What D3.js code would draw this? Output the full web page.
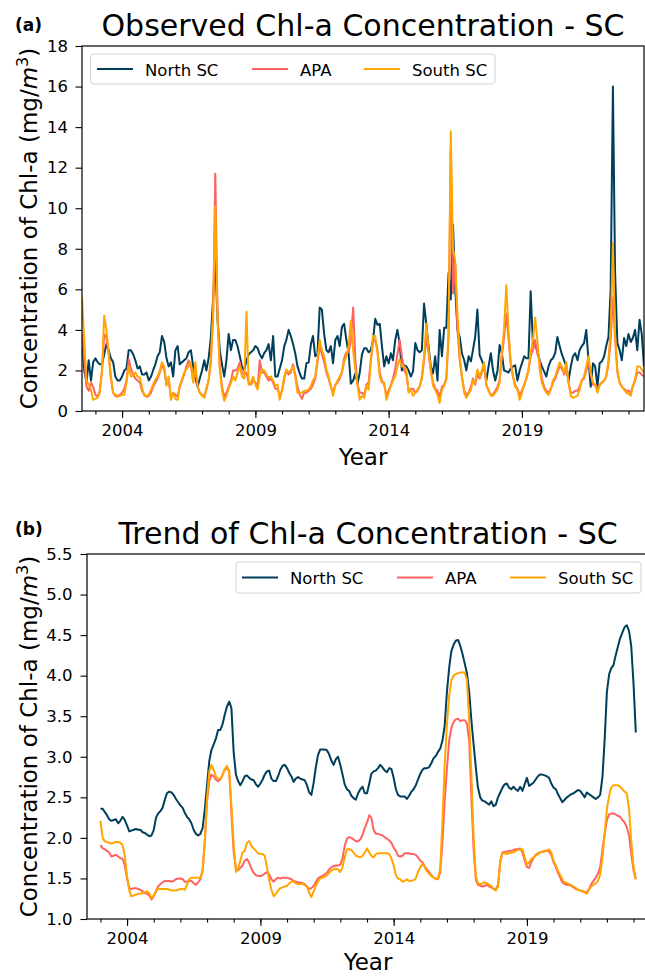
<!DOCTYPE html>
<html>
<head>
<meta charset="utf-8">
<script src="https://cdn.jsdelivr.net/npm/d3@7/dist/d3.min.js"></script>
<style>
  html, body { margin: 0; padding: 0; background: #fff; }
  svg { display: block; font-family: "DejaVu Sans", sans-serif; }
</style>
</head>
<body>
<svg id="chart" width="645" height="976"></svg>
<script>
// ---------------- DATA ----------------
const seriesNames = ["North SC", "APA", "South SC"];
const seriesColors = ["#003f5c", "#ff6361", "#ffa600"];

// Observed monthly series, starting July 2002
const observedStart = [2002, 7];
const obsNorth = [
  3.7,2.0,1.4,2.5,1.5,2.4,
  2.6,2.4,2.3,2.3,2.8,3.3,3.0,2.6,2.4,1.7,1.5,1.5,
  1.7,2.0,2.1,3.0,3.0,2.8,2.5,2.1,2.2,1.8,1.8,1.9,
  1.5,1.7,2.0,2.3,2.7,2.9,3.7,3.4,2.6,2.2,2.4,1.7,
  3.0,3.2,2.3,2.4,2.5,2.6,2.9,3.0,2.2,1.6,1.2,1.6,
  2.0,2.5,2.0,2.6,3.6,5.5,7.5,4.5,3.0,2.3,1.7,2.5,
  3.8,3.0,3.5,3.5,3.2,2.7,2.2,2.0,2.5,2.8,2.9,3.0,
  3.2,3.1,2.8,2.6,2.85,3.0,3.3,2.5,3.7,1.7,1.7,2.1,
  2.5,3.2,3.5,4.0,3.7,3.3,2.85,2.2,1.85,1.6,1.6,2.35,
  2.4,3.3,3.7,2.7,2.8,5.1,5.0,3.8,3.0,2.9,3.2,2.35,
  3.5,3.7,3.2,4.15,4.3,3.5,2.85,1.35,1.5,1.85,1.35,1.9,
  2.8,3.1,3.1,2.9,3.0,3.5,4.55,4.25,4.3,3.2,2.2,2.7,
  2.35,2.85,2.5,3.5,4.0,3.35,2.0,2.25,2.2,2.0,1.7,1.95,
  3.35,3.0,2.9,3.0,5.3,4.3,3.2,2.2,1.85,2.7,1.5,4.0,
  2.7,4.1,4.1,6.8,5.5,9.2,6.0,4.0,3.65,2.85,2.5,2.0,
  2.7,2.45,3.0,3.65,5.0,2.75,2.5,2.2,1.5,2.2,2.85,2.0,
  1.5,2.0,3.25,2.85,2.0,1.95,1.9,2.1,2.2,2.25,1.5,2.0,
  2.35,2.7,2.6,2.6,5.9,3.35,3.2,3.0,2.5,2.2,1.95,1.7,
  2.2,2.5,2.6,2.85,3.65,3.2,2.8,2.5,2.2,1.5,2.2,2.7,
  2.85,2.5,3.0,3.2,3.35,4.0,2.5,1.2,2.35,2.2,1.2,2.35,
  2.45,2.7,3.2,3.65,6.0,16.0,6.8,3.35,3.0,2.5,3.6,3.2,
  3.8,3.4,3.6,4.0,3.0,4.5,3.8,2.2
];
const obsAPA = [
  3.8,2.6,1.2,1.0,1.4,1.2,
  0.8,0.7,1.0,1.9,3.8,3.6,2.8,1.6,0.9,0.75,0.7,0.8,
  0.9,1.1,1.5,2.55,2.1,1.8,1.6,1.5,1.4,1.0,0.8,0.7,
  0.75,0.9,1.2,1.4,1.6,1.9,2.3,2.0,1.3,1.5,0.7,0.9,
  0.8,0.7,1.2,1.5,1.8,2.2,2.5,2.2,1.5,2.0,1.2,0.9,
  0.8,0.7,1.1,1.5,2.4,4.5,11.7,5.0,2.2,1.2,0.7,0.9,
  1.2,1.5,2.0,2.0,2.1,2.4,1.9,1.8,1.9,1.4,1.3,1.5,
  1.4,1.2,2.5,1.9,1.9,1.7,1.5,1.6,1.4,1.1,1.1,0.7,
  1.0,1.6,2.0,1.8,1.9,2.3,1.8,1.2,0.8,0.6,0.9,0.9,
  1.0,1.1,1.3,1.6,2.4,3.2,2.8,2.4,1.9,1.6,1.2,0.9,
  1.3,1.4,1.6,1.9,2.6,2.9,2.9,3.5,5.1,2.6,1.3,0.9,
  0.9,0.8,1.3,1.4,2.5,3.4,3.5,3.0,1.9,1.5,1.3,0.8,
  1.0,1.3,1.6,2.1,2.8,3.5,2.7,2.0,1.8,1.0,1.1,1.1,
  0.9,1.0,1.2,1.6,2.5,3.6,2.9,2.0,1.4,1.1,1.0,0.7,
  1.2,1.3,1.6,3.6,13.0,5.8,7.3,4.0,2.5,1.7,1.0,0.8,
  0.9,1.2,1.6,1.3,1.8,1.6,1.9,2.2,1.3,1.0,0.8,0.8,
  1.0,1.2,1.5,2.7,3.6,4.8,3.6,2.3,1.7,1.3,1.1,0.8,
  1.0,1.3,1.6,2.0,2.7,3.0,3.5,2.8,2.5,1.6,1.2,1.0,
  0.9,1.1,1.4,1.6,1.9,2.2,2.1,1.8,2.1,1.4,0.9,0.9,
  1.0,1.0,1.2,1.5,1.6,2.0,2.4,1.8,1.3,1.3,1.1,1.3,
  1.4,1.5,1.7,2.3,3.5,5.6,3.6,1.9,1.4,1.2,1.1,1.0,
  1.0,0.9,1.2,1.5,1.9,1.9,1.8,1.7
];
const obsSouth = [
  5.6,3.5,1.5,1.3,1.05,0.55,
  0.6,0.65,0.9,2.05,4.7,4.0,2.9,1.7,0.9,0.8,0.75,0.75,
  0.8,0.8,1.4,2.2,1.7,1.75,1.9,1.7,1.65,1.15,0.75,0.75,
  0.8,1.05,1.3,1.55,1.7,2.0,2.4,2.2,1.25,1.7,0.55,0.9,
  0.6,0.55,1.25,1.55,1.9,2.05,2.2,2.4,1.4,2.4,1.25,0.9,
  0.75,0.65,1.05,1.55,2.55,4.85,10.1,4.5,2.05,1.05,0.5,0.75,
  1.1,1.4,1.7,1.5,1.9,2.2,1.7,1.6,4.9,1.3,1.4,1.7,
  1.3,1.05,1.7,2.05,2.0,1.8,1.65,1.7,1.5,1.25,1.3,0.55,
  1.05,1.7,2.05,1.9,2.0,2.2,1.7,0.9,0.9,0.9,1.0,1.0,
  1.05,1.25,1.5,1.7,2.55,3.5,3.0,2.7,2.05,1.7,1.25,0.75,
  1.25,1.5,1.7,1.9,2.4,2.7,3.2,4.45,3.0,2.05,1.25,0.55,
  0.75,0.65,1.25,1.05,2.4,3.7,3.7,2.9,1.7,1.4,1.4,0.55,
  0.9,1.25,1.5,1.7,2.2,2.55,2.2,2.2,2.05,0.9,1.05,0.75,
  0.9,1.05,1.2,1.7,2.7,4.3,3.05,2.05,1.25,1.05,0.8,0.4,
  1.05,1.25,1.55,4.0,13.8,8.0,7.4,4.85,2.7,1.7,0.9,0.65,
  0.85,1.05,1.5,1.4,2.05,1.7,2.0,2.4,1.25,1.05,0.75,0.75,
  0.9,1.05,1.4,2.9,4.0,6.2,4.0,2.4,1.7,1.2,1.05,0.55,
  0.9,1.25,1.55,2.05,2.9,3.5,4.6,3.5,2.05,1.4,1.1,0.9,
  0.8,1.05,1.5,1.7,2.05,2.4,2.2,1.9,2.4,1.4,0.75,0.65,
  0.7,0.75,1.05,1.5,1.7,2.2,2.7,1.9,1.4,1.3,0.9,1.25,
  1.4,1.5,1.7,2.5,4.0,8.3,3.7,2.05,1.4,1.2,1.05,0.9,
  0.85,0.75,1.25,1.55,2.2,2.2,2.05,1.9
];

// Trend (12-month centred) series, starting January 2003
const trendStart = [2003, 1];
const trendNorth = [
  2.36,2.36,2.32,2.28,2.23,2.21,2.22,2.23,2.18,2.21,2.26,2.22,
  2.15,2.08,2.09,2.10,2.11,2.10,2.10,2.07,2.06,2.04,2.02,2.03,
  2.10,2.25,2.30,2.33,2.37,2.47,2.55,2.57,2.56,2.53,2.48,2.44,
  2.40,2.37,2.31,2.26,2.23,2.18,2.10,2.05,2.03,2.05,2.12,2.35,
  2.65,2.95,3.08,3.15,3.22,3.33,3.33,3.40,3.52,3.62,3.68,3.60,
  3.05,2.78,2.70,2.65,2.70,2.76,2.77,2.74,2.72,2.71,2.66,2.63,
  2.67,2.72,2.78,2.82,2.83,2.73,2.70,2.70,2.76,2.84,2.89,2.90,
  2.86,2.80,2.76,2.69,2.73,2.75,2.73,2.72,2.71,2.65,2.56,2.53,
  2.68,2.88,3.02,3.09,3.09,3.09,3.08,3.03,2.95,2.90,2.97,3.00,
  2.90,2.78,2.66,2.60,2.58,2.52,2.49,2.47,2.55,2.60,2.63,2.55,
  2.55,2.67,2.79,2.82,2.83,2.86,2.90,2.87,2.83,2.81,2.86,2.85,
  2.74,2.60,2.53,2.51,2.51,2.51,2.48,2.52,2.57,2.60,2.65,2.72,
  2.79,2.84,2.86,2.86,2.87,2.92,2.98,3.01,3.06,3.10,3.20,3.38,
  3.80,4.10,4.30,4.38,4.43,4.44,4.37,4.27,4.15,4.03,3.80,3.45,
  3.15,2.86,2.62,2.50,2.46,2.45,2.43,2.41,2.45,2.39,2.41,2.50,
  2.56,2.62,2.66,2.67,2.62,2.60,2.63,2.60,2.58,2.63,2.58,2.66,
  2.74,2.64,2.66,2.68,2.72,2.76,2.78,2.78,2.77,2.76,2.74,2.67,
  2.62,2.60,2.54,2.49,2.44,2.47,2.50,2.52,2.54,2.55,2.57,2.59,
  2.58,2.54,2.50,2.56,2.54,2.52,2.50,2.48,2.50,2.53,2.75,3.20,
  3.80,4.02,4.09,4.13,4.25,4.36,4.46,4.53,4.60,4.62,4.55,4.36,
  3.90,3.30
];
const trendAPA = [
  1.91,1.87,1.86,1.84,1.82,1.77,1.78,1.79,1.77,1.75,1.74,1.66,
  1.50,1.38,1.37,1.38,1.38,1.37,1.36,1.34,1.32,1.31,1.29,1.24,
  1.28,1.34,1.40,1.43,1.45,1.47,1.47,1.47,1.46,1.47,1.49,1.50,
  1.50,1.49,1.46,1.46,1.47,1.47,1.44,1.42,1.45,1.49,1.60,1.95,
  2.45,2.70,2.78,2.76,2.72,2.70,2.72,2.78,2.84,2.86,2.83,2.30,
  1.82,1.63,1.60,1.63,1.66,1.72,1.74,1.69,1.62,1.57,1.54,1.53,
  1.53,1.54,1.56,1.58,1.55,1.49,1.46,1.49,1.51,1.50,1.51,1.51,
  1.51,1.50,1.49,1.47,1.46,1.45,1.45,1.44,1.43,1.40,1.37,1.38,
  1.41,1.46,1.50,1.52,1.53,1.55,1.57,1.61,1.64,1.65,1.66,1.66,
  1.67,1.75,1.90,1.99,2.01,2.00,1.98,1.96,1.96,1.98,2.04,2.12,
  2.19,2.28,2.25,2.10,2.05,2.05,2.04,2.03,2.01,1.99,1.97,1.94,
  1.88,1.84,1.78,1.77,1.78,1.81,1.81,1.81,1.80,1.80,1.79,1.76,
  1.72,1.70,1.65,1.61,1.58,1.54,1.51,1.50,1.49,1.58,1.95,2.45,
  2.85,3.20,3.35,3.43,3.46,3.47,3.44,3.45,3.45,3.41,3.20,2.50,
  1.85,1.48,1.42,1.41,1.40,1.41,1.42,1.40,1.39,1.37,1.37,1.42,
  1.72,1.82,1.83,1.83,1.84,1.84,1.85,1.86,1.86,1.87,1.82,1.72,
  1.64,1.63,1.70,1.75,1.79,1.81,1.82,1.83,1.84,1.84,1.83,1.79,
  1.70,1.64,1.57,1.51,1.45,1.43,1.42,1.42,1.41,1.39,1.37,1.36,
  1.35,1.34,1.33,1.33,1.37,1.43,1.47,1.51,1.56,1.64,1.85,2.05,
  2.22,2.29,2.30,2.30,2.29,2.27,2.26,2.22,2.19,2.13,2.03,1.80,
  1.60,1.49
];
const trendSouth = [
  2.21,2.00,1.96,1.95,1.94,1.93,1.94,1.95,1.95,1.94,1.91,1.78,
  1.52,1.35,1.28,1.29,1.30,1.31,1.31,1.32,1.33,1.34,1.32,1.26,
  1.29,1.35,1.37,1.37,1.37,1.37,1.37,1.36,1.35,1.35,1.35,1.36,
  1.37,1.37,1.36,1.42,1.49,1.51,1.51,1.51,1.51,1.51,1.58,1.95,
  2.50,2.82,2.90,2.84,2.76,2.73,2.73,2.77,2.85,2.89,2.80,2.40,
  1.92,1.58,1.62,1.72,1.82,1.84,1.94,1.96,1.90,1.87,1.84,1.81,
  1.80,1.80,1.78,1.64,1.48,1.36,1.28,1.31,1.35,1.38,1.39,1.40,
  1.41,1.44,1.46,1.46,1.44,1.43,1.43,1.43,1.42,1.40,1.32,1.27,
  1.34,1.41,1.46,1.50,1.51,1.52,1.54,1.57,1.60,1.61,1.62,1.61,
  1.58,1.64,1.76,1.86,1.86,1.85,1.82,1.78,1.77,1.76,1.78,1.82,
  1.87,1.82,1.78,1.76,1.80,1.81,1.81,1.81,1.81,1.81,1.80,1.75,
  1.66,1.54,1.50,1.49,1.46,1.47,1.49,1.47,1.47,1.48,1.50,1.58,
  1.64,1.68,1.64,1.59,1.56,1.53,1.51,1.49,1.50,1.62,2.20,2.90,
  3.40,3.75,3.94,4.00,4.02,4.03,4.04,4.04,4.04,3.95,3.45,2.80,
  2.00,1.52,1.44,1.43,1.44,1.45,1.44,1.42,1.41,1.37,1.35,1.40,
  1.70,1.81,1.81,1.80,1.81,1.82,1.82,1.84,1.85,1.86,1.86,1.76,
  1.67,1.70,1.74,1.76,1.78,1.80,1.82,1.83,1.83,1.84,1.86,1.82,
  1.72,1.66,1.60,1.54,1.49,1.45,1.44,1.43,1.42,1.40,1.38,1.36,
  1.35,1.35,1.33,1.31,1.36,1.40,1.42,1.44,1.47,1.55,1.75,2.05,
  2.36,2.52,2.62,2.65,2.65,2.65,2.63,2.60,2.57,2.55,2.35,1.95,
  1.65,1.49
];

// Axis settings
const xDomainStart = [2002, 7];
const xDomainEnd = [2023, 8];
const xMajorYears = [2004, 2009, 2014, 2019];
const xMinorYears = d3.range(2003, 2024);
const yTicksA = [0, 2, 4, 6, 8, 10, 12, 14, 16, 18];
const yTicksB = [1.0, 1.5, 2.0, 2.5, 3.0, 3.5, 4.0, 4.5, 5.0, 5.5];

const panelA = {
  tag: "(a)", title: "Observed Chl-a Concentration - SC",
  series: [obsNorth, obsAPA, obsSouth], start: observedStart,
  yDomain: [0, 18], yTicks: yTicksA, yFmt: d3.format("d")
};
const panelB = {
  tag: "(b)", title: "Trend of Chl-a Concentration - SC",
  series: [trendNorth, trendAPA, trendSouth], start: trendStart,
  yDomain: [1.0, 5.5], yTicks: yTicksB, yFmt: d3.format(".1f")
};

// ---------------- DRAWING ----------------
const svg = d3.select("#chart");
const FONT = "DejaVu Sans";

function monthDate(start, i) {
  return d3.timeMonth.offset(new Date(start[0], start[1] - 1, 1), i);
}

function drawPanel(p, box, layout) {
  const g = svg.append("g");
  const x = d3.scaleTime()
    .domain([monthDate(xDomainStart, 0), monthDate(xDomainEnd, 0)])
    .range([box.left, box.right]);
  const y = d3.scaleLinear().domain(p.yDomain).range([box.bottom, box.top]);

  const clipId = "clip" + Math.round(box.top);
  svg.append("defs").append("clipPath").attr("id", clipId)
    .append("rect").attr("x", box.left).attr("y", box.top)
    .attr("width", box.right - box.left).attr("height", box.bottom - box.top);

  // lines
  const line = d3.line()
    .x((d, i) => x(monthDate(p.start, i)))
    .y(d => y(d));
  const lg = g.append("g").attr("clip-path", `url(#${clipId})`);
  p.series.forEach((s, k) => {
    lg.append("path").datum(s)
      .attr("d", line)
      .attr("fill", "none")
      .attr("stroke", seriesColors[k])
      .attr("stroke-width", 2)
      .attr("stroke-linejoin", "round")
      .attr("stroke-linecap", "butt");
  });

  // x axis: minor + major
  const xMinor = d3.axisBottom(x)
    .tickValues(xMinorYears.map(yr => new Date(yr, 0, 1)))
    .tickSize(3.5).tickSizeOuter(0).tickFormat("");
  const xMajor = d3.axisBottom(x)
    .tickValues(xMajorYears.map(yr => new Date(yr, 0, 1)))
    .tickSize(7).tickSizeOuter(0).tickPadding(6)
    .tickFormat(d3.timeFormat("%Y"));
  const gxm = g.append("g").attr("transform", `translate(0,${box.bottom})`).call(xMinor);
  const gx = g.append("g").attr("transform", `translate(0,${box.bottom})`).call(xMajor);
  [gxm, gx].forEach(a => {
    a.select(".domain").remove();
    a.selectAll(".tick line").attr("stroke", "#000").attr("stroke-width", 1.1);
  });
  gx.selectAll(".tick text").attr("font-family", FONT).attr("font-size", 16.5).attr("fill", "#000");

  // y axis
  const yAx = d3.axisLeft(y).tickValues(p.yTicks).tickFormat(p.yFmt)
    .tickSize(6.5).tickSizeOuter(0).tickPadding(layout.yPad);
  const gy = g.append("g").attr("transform", `translate(${box.left},0)`).call(yAx);
  gy.select(".domain").remove();
  gy.selectAll(".tick line").attr("stroke", "#000").attr("stroke-width", 1.1);
  gy.selectAll(".tick text").attr("font-family", FONT).attr("font-size", 16.5).attr("fill", "#000");

  // spines
  g.append("rect")
    .attr("x", box.left).attr("y", box.top)
    .attr("width", box.right - box.left).attr("height", box.bottom - box.top)
    .attr("fill", "none").attr("stroke", "#000").attr("stroke-width", 1.2);

  // title
  g.append("text")
    .attr("x", (box.left + box.right) / 2).attr("y", layout.titleY)
    .attr("text-anchor", "middle")
    .attr("font-family", FONT).attr("font-size", 30).attr("fill", "#000")
    .text(p.title);

  // panel tag
  g.append("text")
    .attr("x", 15).attr("y", layout.tagY)
    .attr("font-family", FONT).attr("font-weight", "bold").attr("font-size", 17)
    .attr("fill", "#000").text(p.tag);

  // x label
  g.append("text")
    .attr("x", (box.left + box.right) / 2).attr("y", layout.xLabelY)
    .attr("text-anchor", "middle")
    .attr("font-family", FONT).attr("font-size", 23).attr("fill", "#000")
    .text("Year");

  // y label
  const yl = g.append("text")
    .attr("transform", `translate(37,${(box.top + box.bottom) / 2}) rotate(-90)`)
    .attr("text-anchor", "middle")
    .attr("font-family", FONT).attr("font-size", 23).attr("fill", "#000");
  yl.append("tspan").text("Concentration of Chl-a (mg/");
  yl.append("tspan").attr("font-style", "italic").text("m");
  yl.append("tspan").attr("font-size", 16).attr("dy", -9).text("3");
  yl.append("tspan").attr("dy", 9).text(")");

  // legend
  const L = layout.legend;
  const lgd = g.append("g");
  lgd.append("rect")
    .attr("x", L.x).attr("y", L.y).attr("width", L.w).attr("height", L.h)
    .attr("rx", 3).attr("ry", 3)
    .attr("fill", "#fff").attr("fill-opacity", 0.8)
    .attr("stroke", "#d4d4d4").attr("stroke-width", 1);
  seriesNames.forEach((name, k) => {
    const ex = L.items[k];
    lgd.append("line")
      .attr("x1", ex).attr("x2", ex + 36)
      .attr("y1", L.y + L.h / 2).attr("y2", L.y + L.h / 2)
      .attr("stroke", seriesColors[k]).attr("stroke-width", 2);
    lgd.append("text")
      .attr("x", ex + 48).attr("y", L.y + L.h / 2 + 6.5)
      .attr("font-family", FONT).attr("font-size", 16.5).attr("fill", "#000")
      .text(name);
  });
}

drawPanel(panelA, { left: 82, right: 644, top: 46, bottom: 411 }, {
  titleY: 35.5, tagY: 31, xLabelY: 465, yPad: 7.5,
  legend: { x: 90.5, y: 54, w: 404.5, h: 30, items: [97, 252, 364] }
});
drawPanel(panelB, { left: 87, right: 649, top: 554, bottom: 919 }, {
  titleY: 544, tagY: 535, xLabelY: 970, yPad: 8,
  legend: { x: 236, y: 562, w: 405, h: 31, items: [242, 397, 510] }
});
</script>
</body>
</html>
